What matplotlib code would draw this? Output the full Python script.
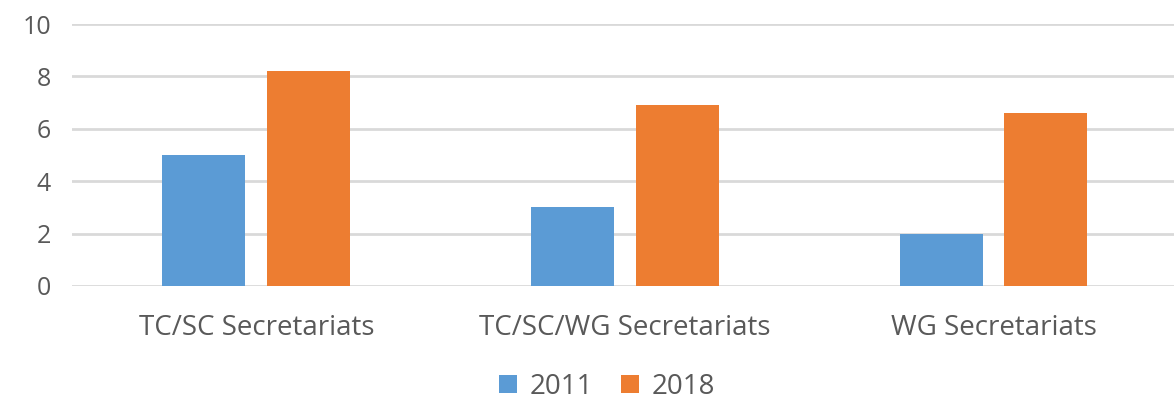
import numpy as np
import matplotlib
matplotlib.use("Agg")
import matplotlib.pyplot as plt

categories = ["TC/SC Secretariats", "TC/SC/WG Secretariats", "WG Secretariats"]
series_names = ["2011", "2018"]
values_2011 = [5, 3, 2]
values_2018 = [8.2, 6.9, 6.6]
y_ticks = [0, 2, 4, 6, 8, 10]

plt.rcParams["font.family"] = ["Open Sans", "DejaVu Sans"]
text_color = "#595959"

fig = plt.figure(figsize=(11.74, 4.01), dpi=100)
ax = fig.add_axes([0.0613, 0.287, 0.942, 0.653])

x = np.arange(len(categories))
w = 0.225
ax.bar(x - 0.142, values_2011, w, color="#5B9BD5", label=series_names[0], zorder=3)
ax.bar(x + 0.142, values_2018, w, color="#ED7D31", label=series_names[1], zorder=3)

ax.set_xlim(-0.5, 2.5)
ax.set_ylim(0, 10)
ax.set_yticks(y_ticks)
ax.set_xticks(x)
ax.set_xticklabels(categories)
ax.tick_params(axis="y", length=0, labelsize=18, colors=text_color, pad=15)
ax.tick_params(axis="x", length=0, labelsize=20, colors=text_color, pad=20)
ax.grid(axis="y", color="#d9d9d9", linewidth=2, zorder=0)
for s in ax.spines.values():
    s.set_visible(False)

fig.legend(loc="center", bbox_to_anchor=(0.517, 0.035), ncol=2, frameon=False,
           fontsize=20, handlelength=0.65, handleheight=0.65, handletextpad=0.45,
           columnspacing=1.0, labelcolor=text_color)

fig.savefig("out.png", dpi=100)
